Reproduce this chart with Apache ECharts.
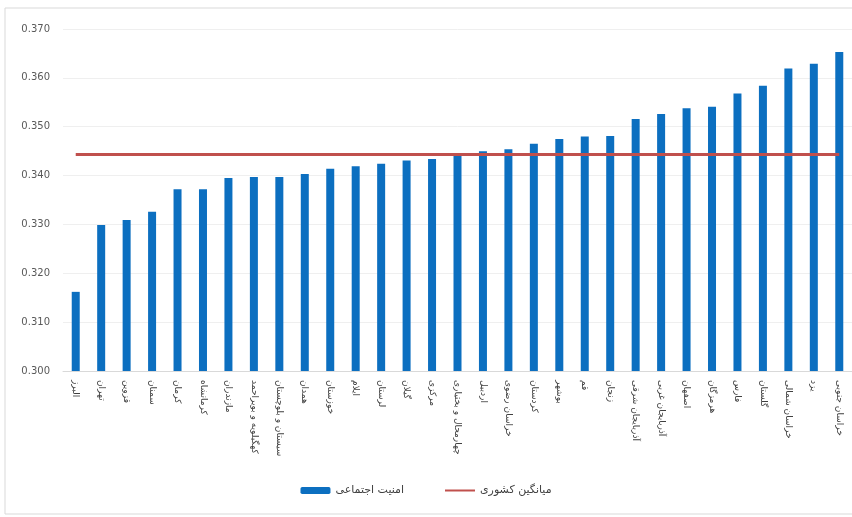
<!DOCTYPE html>
<html>
<head>
<meta charset="utf-8">
<script src="https://cdn.jsdelivr.net/npm/echarts@6/dist/echarts.min.js"></script>
<style>
html,body{margin:0;padding:0;background:#fff;}
#c{width:852px;height:517px;}
</style>
</head>
<body>
<div id="c"></div>
<script>
const categories = [
  'البرز','تهران','قزوین','سمنان','کرمان','کرمانشاه','مازندران','کهگیلویه و بویراحمد',
  'سیستان و بلوچستان','همدان','خوزستان','ایلام','لرستان','گیلان','مرکزی','چهارمحال و بختیاری',
  'اردبیل','خراسان رضوی','کردستان','بوشهر','قم','زنجان','آذربایجان شرقی','آذربایجان غربی',
  'اصفهان','هرمزگان','فارس','گلستان','خراسان شمالی','یزد','خراسان جنوبی'
];
const securityValues = [
  0.3162,0.3299,0.3309,0.3326,0.3372,0.3372,0.3395,0.3397,
  0.3397,0.3403,0.3414,0.3419,0.3424,0.3431,0.3434,0.3443,
  0.3450,0.3454,0.3465,0.3475,0.3480,0.3481,0.3516,0.3526,
  0.3538,0.3541,0.3568,0.3584,0.3619,0.3629,0.3653
];
const nationalAverage = [
  0.3443,0.3443,0.3443,0.3443,0.3443,0.3443,0.3443,0.3443,
  0.3443,0.3443,0.3443,0.3443,0.3443,0.3443,0.3443,0.3443,
  0.3443,0.3443,0.3443,0.3443,0.3443,0.3443,0.3443,0.3443,
  0.3443,0.3443,0.3443,0.3443,0.3443,0.3443,0.3443
];
const seriesNames = ['امنیت اجتماعی','میانگین کشوری'];
const yMin = 0.300, yMax = 0.370, yStep = 0.010;

const chart = echarts.init(document.getElementById('c'), null, {renderer:'canvas'});
chart.setOption({
  animation:false,
  backgroundColor:'#ffffff',
  textStyle:{fontFamily:'DejaVu Sans'},
  graphic:[{
    type:'rect', shape:{x:5,y:8,width:900,height:506},
    style:{fill:'none',stroke:'#d9d9d9',lineWidth:1}, silent:true, z:-10
  }],
  grid:{left:63, right:-5, top:29, bottom:146},
  legend:{
    data:[
      {name:seriesNames[0]},
      {name:seriesNames[1], itemStyle:{opacity:0}}
    ],
    bottom:16, left:'center',
    itemWidth:30, itemHeight:7, itemGap:40,
    textStyle:{fontSize:11,color:'#404040',fontFamily:'DejaVu Sans'}
  },
  xAxis:{
    type:'category', data:categories,
    axisLine:{show:true,lineStyle:{color:'#d9d9d9'}},
    axisTick:{show:false},
    axisLabel:{rotate:-90, interval:0, fontSize:9, color:'#404040', margin:9, fontFamily:'DejaVu Sans'}
  },
  yAxis:{
    type:'value', min:yMin, max:yMax, interval:yStep,
    axisLine:{show:false}, axisTick:{show:false},
    splitLine:{lineStyle:{color:'#efefef'}},
    axisLabel:{fontSize:10, color:'#595959', margin:13, fontFamily:'DejaVu Sans',
      formatter:v=>v.toFixed(3)}
  },
  series:[
    {name:seriesNames[0], type:'bar', data:securityValues, barWidth:8,
     itemStyle:{color:'#0c6fc0'}},
    {name:seriesNames[1], type:'line', data:nationalAverage, symbol:'none',
     lineStyle:{color:'#c0504d',width:3}, itemStyle:{color:'#c0504d'}, z:3}
  ]
});
</script>
</body>
</html>
